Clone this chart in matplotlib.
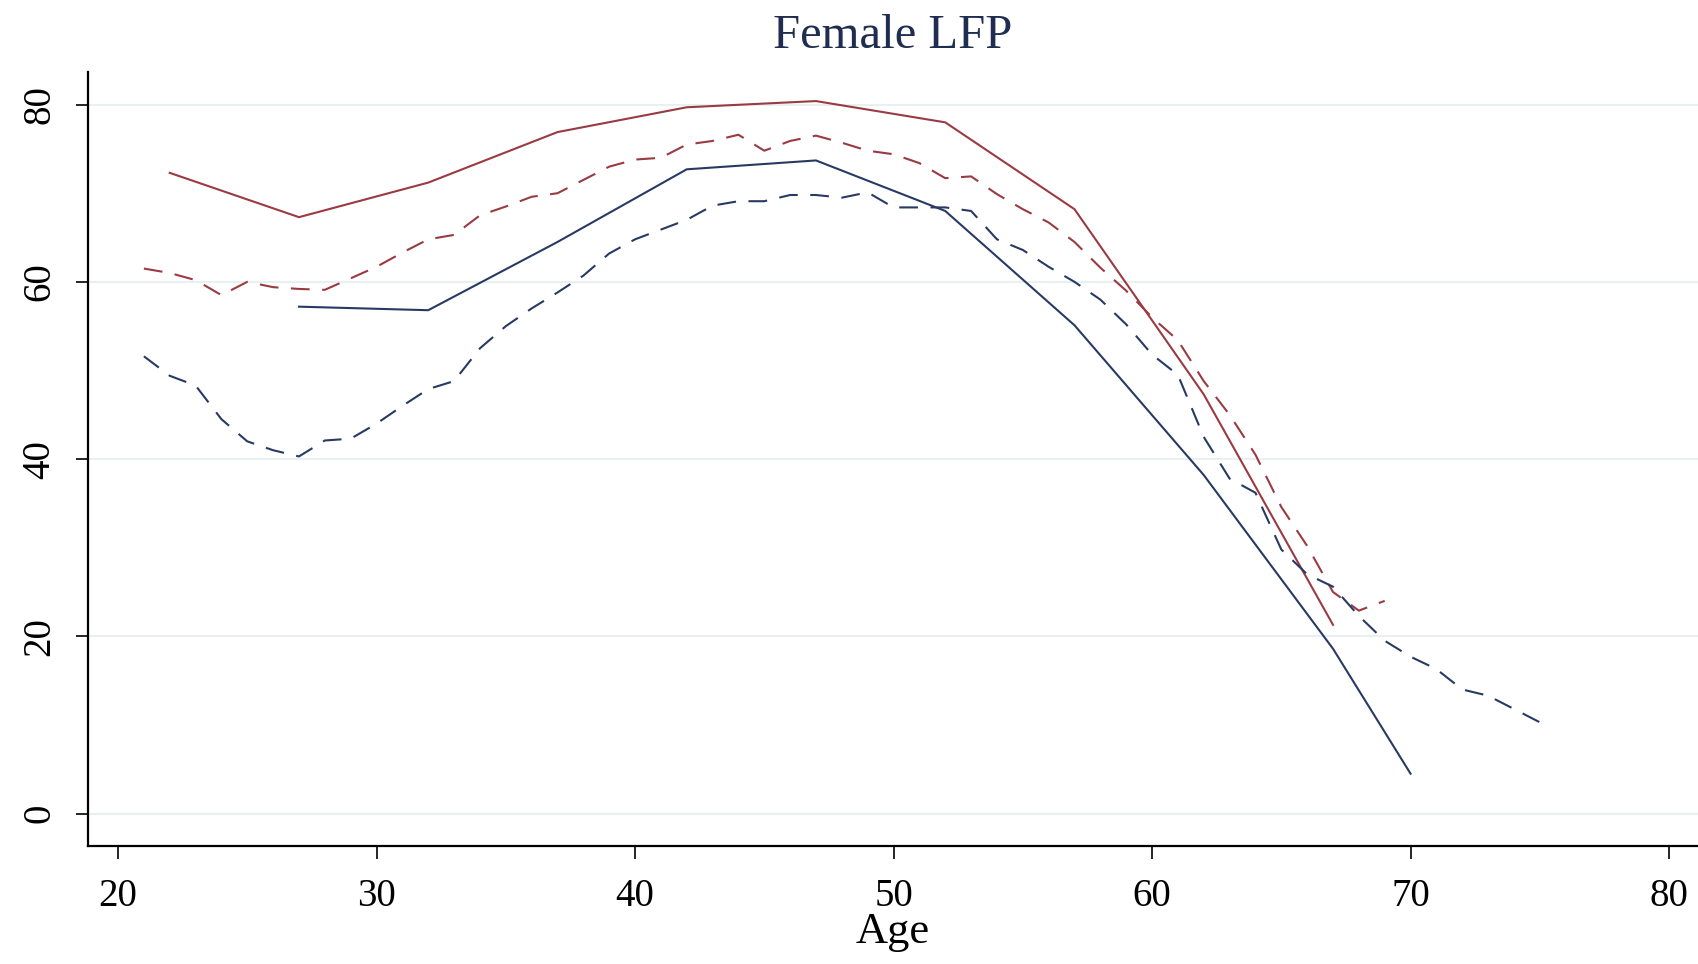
import matplotlib
matplotlib.use("Agg")
import matplotlib.pyplot as plt

# ---- data ----
# solid lines (5-year points)
age_maroon_solid = [22, 27, 32, 37, 42, 47, 52, 57, 62, 67]
lfp_maroon_solid = [72.3, 67.3, 71.2, 76.9, 79.7, 80.4, 78.0, 68.2, 47.3, 21.3]

age_navy_solid = [27, 32, 37, 42, 47, 52, 57, 62, 67, 70]
lfp_navy_solid = [57.2, 56.8, 64.5, 72.7, 73.7, 68.0, 55.1, 38.2, 18.6, 4.5]

# dashed lines (annual points)
age_maroon_dash = list(range(21, 70))
lfp_maroon_dash = [61.5, 61.0, 60.2, 58.5, 60.0, 59.4, 59.2, 59.1, 60.4, 61.7,
                   63.3, 64.8, 65.3, 67.5, 68.5, 69.6, 70.0, 71.5, 73.0, 73.8,
                   74.0, 75.5, 75.9, 76.6, 74.8, 75.9, 76.5, 75.7, 74.8, 74.4,
                   73.4, 71.7, 71.9, 69.9, 68.2, 66.7, 64.5, 61.6, 59.0, 56.0,
                   53.4, 48.8, 45.0, 40.5, 34.6, 30.2, 25.0, 22.9, 24.0]

age_navy_dash = list(range(21, 76))
lfp_navy_dash = [51.6, 49.4, 48.3, 44.5, 42.0, 41.0, 40.3, 42.1, 42.3, 44.0,
                 46.0, 47.9, 48.8, 52.5, 55.0, 57.0, 58.8, 60.7, 63.2, 64.8,
                 65.9, 67.0, 68.6, 69.1, 69.1, 69.8, 69.8, 69.5, 70.1, 68.4,
                 68.4, 68.4, 68.0, 64.8, 63.6, 61.7, 60.0, 58.0, 55.2, 51.8,
                 49.5, 42.5, 37.8, 36.2, 29.8, 27.0, 25.6, 22.3, 19.5, 17.7,
                 16.3, 14.0, 13.3, 11.8, 10.3]

xticks = [20, 30, 40, 50, 60, 70, 80]
yticks = [0, 20, 40, 60, 80]
title = "Female LFP"
xlabel = "Age"

# ---- style ----
navy = "#283a64"
maroon = "#9a3a42"
serif = ["Liberation Serif", "DejaVu Serif"]

fig = plt.figure(figsize=(16.98, 9.64), dpi=100)
ax = fig.add_axes([0.0517, 0.1227, 0.9483, 0.8026])

for y in yticks:
    ax.axhline(y, color="#e8f0f2", lw=1.5, zorder=0)

lw = 1.5
ax.plot(age_maroon_solid, lfp_maroon_solid, color=maroon, lw=lw)
ax.plot(age_maroon_dash, lfp_maroon_dash, color=maroon, lw=lw, dashes=(9, 6))
ax.plot(age_navy_solid, lfp_navy_solid, color=navy, lw=lw)
ax.plot(age_navy_dash, lfp_navy_dash, color=navy, lw=lw, dashes=(9, 6))

ax.set_xlim(18.83, 81.12)
ax.set_ylim(-3.63, 83.68)
ax.set_xticks(xticks)
ax.set_yticks(yticks)
ax.set_xticklabels([str(t) for t in xticks], fontfamily=serif, fontsize=28)
ax.set_yticklabels([str(t) for t in yticks], fontfamily=serif, fontsize=28,
                   rotation=90, va="center")
ax.tick_params(axis="both", direction="out", length=9, width=1.2, colors="black")
ax.tick_params(axis="x", pad=14)
ax.tick_params(axis="y", pad=12)

for s in ["top", "right"]:
    ax.spines[s].set_visible(False)
for s in ["left", "bottom"]:
    ax.spines[s].set_linewidth(1.6)
    ax.spines[s].set_color("black")

ax.set_xlabel(xlabel, fontfamily=serif, fontsize=32, labelpad=-2)
fig.text(0.526, 0.963, title, fontfamily=serif, fontsize=35, color="#1f2d50",
         ha="center", va="center")

fig.savefig("out.png", dpi=100, facecolor="white")
